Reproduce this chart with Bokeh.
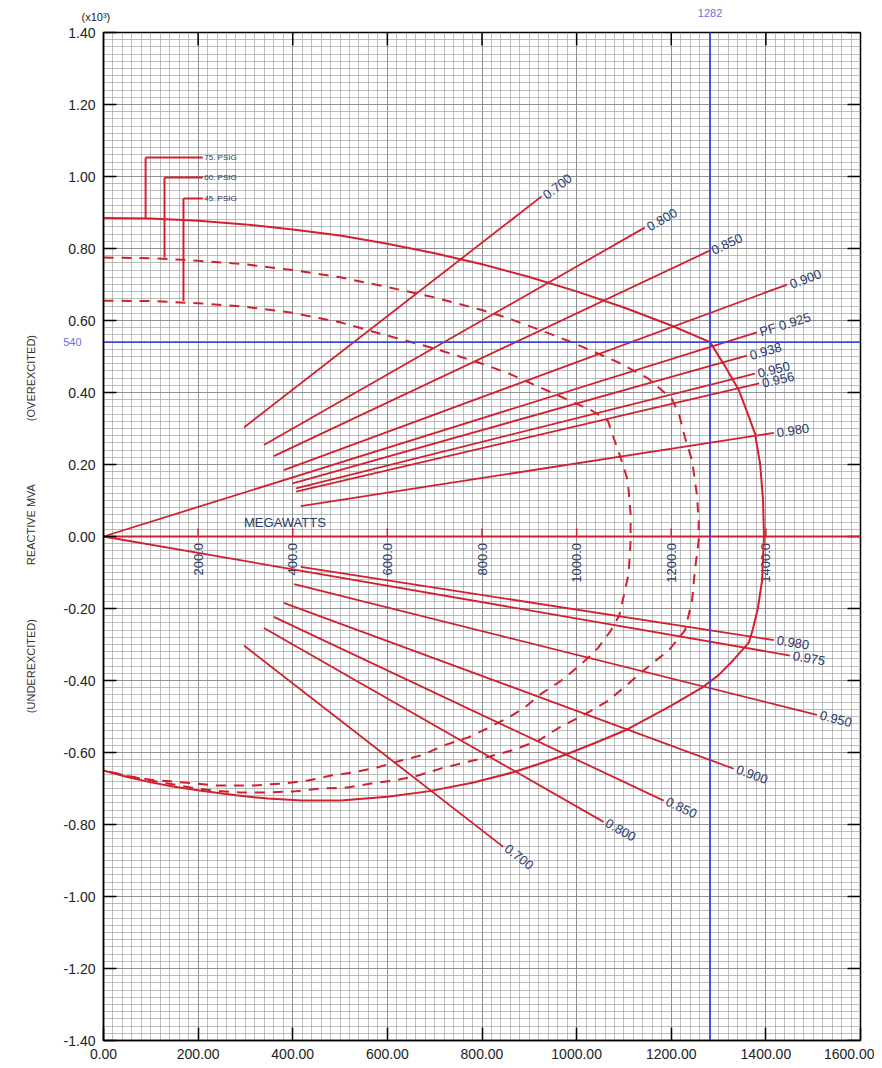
import math
from bokeh.plotting import figure
from bokeh.models import Range1d, FixedTicker, NumeralTickFormatter, LinearAxis, ColumnDataSource
from bokeh.embed import file_html
from bokeh.resources import INLINE
from bokeh.core.properties import value

# ---------------- data (MW, MVAR) ----------------
cap75_p = [0, 100, 200, 300, 400, 500, 600, 700, 800, 900, 1000, 1100, 1200, 1282,
           1315, 1343, 1362, 1377, 1388, 1394, 1396, 1394, 1392, 1383, 1372, 1364,
           1330, 1300, 1265, 1200, 1150, 1102, 1040, 975, 920, 866, 780, 686, 600,
           502, 420, 347, 280, 206, 150, 100, 50, 0]
cap75_q = [885, 883, 877, 867, 853, 836, 813, 787, 756, 721, 681, 636, 586, 540,
           470, 406, 340, 286, 200, 100, 0, -60, -122, -200, -260, -295,
           -345, -385, -420, -470, -505, -539, -573, -607, -632, -655, -684, -708, -723,
           -733, -733, -728, -719, -706, -695, -683, -668, -650]

cap60_p = [0, 100, 200, 300, 400, 500, 600, 700, 800, 856, 950, 1000, 1089, 1150,
           1201, 1216, 1229, 1244, 1254, 1258, 1258, 1250, 1244, 1229, 1194, 1160,
           1130, 1110, 1067, 1032, 1004, 964, 919, 866, 817, 763, 714, 665, 614, 566,
           517, 460, 403, 347, 290, 233, 184, 136, 100, 50, 0]
cap60_q = [775, 773, 766, 756, 740, 720, 693, 664, 629, 606, 560, 534, 483, 440,
           383, 342, 275, 211, 119, 44, -11, -94, -178, -261, -317, -352,
           -385, -408, -456, -483, -503, -530, -567, -593, -611, -628, -644, -664, -678, -686,
           -697, -700, -708, -711, -711, -706, -697, -686, -678, -665, -650]

cap45_p = [0, 100, 200, 300, 396, 500, 600, 700, 800, 856, 947, 1032, 1066, 1078,
           1093, 1108, 1114, 1114, 1110, 1099, 1090, 1072, 1045, 1011, 968, 926, 890,
           856, 814, 771, 720, 672, 629, 580, 530, 481, 432, 381, 311, 242, 191, 142,
           100, 50, 0]
cap45_q = [655, 654, 648, 638, 622, 595, 558, 522, 480, 453, 400, 350, 322, 275,
           219, 156, 64, -11, -103, -169, -220, -262, -310, -353, -400, -436, -475,
           -503, -531, -558, -580, -608, -622, -641, -655, -664, -678, -686, -692, -692, -686, -680,
           -676, -665, -650]

over_pf = [0.700, 0.800, 0.850, 0.900, 0.925, 0.938, 0.950, 0.956, 0.980]
over_labels = ["0.700", "0.800", "0.850", "0.900", "PF 0.925", "0.938", "0.950", "0.956", "0.980"]
over_p0 = [297, 339, 360, 381, 0, 400, 407, 407, 417]
over_p1 = [926, 1144, 1280, 1445, 1381, 1360, 1377, 1386, 1417]

under_pf = [0.700, 0.800, 0.850, 0.900, 0.950, 0.975, 0.980]
under_labels = ["0.700", "0.800", "0.850", "0.900", "0.950", "0.975", "0.980"]
under_p0 = [297, 339, 360, 381, 403, 0, 417]
under_p1 = [845, 1057, 1184, 1332, 1508, 1451, 1417]

psig_labels = ["75. PSIG", "60. PSIG", "45. PSIG"]

rated_mw = 1282
rated_mvar = 540

x_ticks = [0, 200, 400, 600, 800, 1000, 1200, 1400, 1600]
inner_ticks = [200, 400, 600, 800, 1000, 1200, 1400]
inner_tick_labels = ["200.0", "400.0", "600.0", "800.0", "1000.0", "1200.0", "1400.0"]
y_ticks = [-1.4, -1.2, -1.0, -0.8, -0.6, -0.4, -0.2, 0.0, 0.2, 0.4, 0.6, 0.8, 1.0, 1.2, 1.4]
side_texts = ["(OVEREXCITED)", "REACTIVE MVA", "(UNDEREXCITED)"]

# ---------------- styles ----------------
RED = "#d3202f"
BLUE = "#3a48d4"
NAVY = "#2a3c6c"
LBLUE = "#6d6fd8"
FONT = "Liberation Sans"

FW, FH = 757, 1008          # frame size in px
XPX = FW / 1600.0           # px per MW
YPX = FH / 2800.0           # px per MVAR

p = figure(width=874, height=1064, x_range=Range1d(0, 1600), y_range=Range1d(-1.4, 1.4),
           output_backend="svg", toolbar_location=None,
           min_border_left=103, min_border_right=14, min_border_top=32, min_border_bottom=24)
p.background_fill_color = "white"
p.outline_line_color = "black"
p.outline_line_width = 1.5

x_minor = [20 * i for i in range(81)]
y_minor = [round(-1.4 + 0.02 * i, 2) for i in range(141)]
xt = FixedTicker(ticks=x_ticks, minor_ticks=x_minor)
yt = FixedTicker(ticks=y_ticks, minor_ticks=y_minor)
p.xaxis.ticker = xt
p.yaxis.ticker = yt
p.xgrid.ticker = xt
p.ygrid.ticker = yt
for g in (p.xgrid, p.ygrid):
    g.grid_line_color = "#858585"
    g.grid_line_width = 0.8
    g.minor_grid_line_color = "#999999"
    g.minor_grid_line_width = 0.65

p.xaxis.formatter = NumeralTickFormatter(format="0.00")
p.yaxis.formatter = NumeralTickFormatter(format="0.00")
for ax in (p.xaxis, p.yaxis):
    ax.major_tick_in = 13
    ax.major_tick_out = 0
    ax.major_tick_line_width = 1.5
    ax.minor_tick_line_color = None
    ax.axis_line_width = 1.5
    ax.major_label_text_font = FONT
    ax.major_label_text_font_size = "14px"
    ax.major_label_text_color = "#222222"
    ax.major_label_standoff = 4


def text_axis(ticks, labels, color, size, standoff, orientation="horizontal"):
    ax = LinearAxis(ticker=FixedTicker(ticks=ticks),
                    major_label_overrides=dict(zip(ticks, labels)),
                    major_tick_in=0, major_tick_out=0, major_tick_line_color=None,
                    minor_tick_line_color=None, axis_line_color=None,
                    major_label_text_font=FONT, major_label_text_font_size=size,
                    major_label_text_color=color, major_label_standoff=standoff,
                    major_label_orientation=orientation)
    return ax

# labels outside the frame, as label-only axes
p.add_layout(text_axis([rated_mvar / 1000.0], [str(rated_mvar)], LBLUE, "11px", -21), "left")
p.add_layout(text_axis([0.44, 0.033, -0.36], side_texts, "#333333", "11px", 23, "vertical"), "left")
p.add_layout(text_axis([0], ["(x10³)" + "\u00a0" * 5], "#222222", "11px", 10), "above")
p.add_layout(text_axis([rated_mw], [str(rated_mw)], LBLUE, "11px", -9), "above")

# ticks on top and right edges
p.segment(x0=x_ticks[1:-1], y0=[1.4] * 7, x1=x_ticks[1:-1], y1=[1.4 - 13 / 360.0] * 7,
          line_color="black", line_width=1.5)
p.segment(x0=[1600] * len(y_ticks), y0=y_ticks, x1=[1600 - 13 / XPX] * len(y_ticks), y1=y_ticks,
          line_color="black", line_width=1.5)

# megawatt axis inside the plot
p.line(x=[0, 1600], y=[0, 0], line_color=RED, line_width=2)
p.segment(x0=inner_ticks, y0=[0] * 7, x1=inner_ticks, y1=[8 / 360.0] * 7, line_color=RED, line_width=1.5)
p.text(x=inner_ticks, y=[-0.018] * 7, text=inner_tick_labels, angle=math.pi / 2,
       text_align="right", text_baseline="middle", text_font=value(FONT),
       text_font_size="13px", text_color=NAVY)
p.text(x=[297], y=[0.038], text=["MEGAWATTS"], text_align="left", text_baseline="middle",
       text_font=value(FONT), text_font_size="13px", text_color=NAVY)

# capability curves
def kq(lst):
    return [v / 1000.0 for v in lst]

p.line(cap75_p, kq(cap75_q), line_color=RED, line_width=2)
p.line(cap60_p, kq(cap60_q), line_color=RED, line_width=2, line_dash="10 8")
p.line(cap45_p, kq(cap45_q), line_color=RED, line_width=2, line_dash="10 8")

# power factor lines
def pf_src(pfs, p0s, p1s, labels, sign):
    t = [math.tan(math.acos(f)) for f in pfs]
    y0 = [sign * a * b / 1000.0 for a, b in zip(p0s, t)]
    y1 = [sign * a * b / 1000.0 for a, b in zip(p1s, t)]
    ang = [sign * math.atan(b * YPX / XPX) for b in t]
    return ColumnDataSource(dict(x0=p0s, y0=y0, x1=p1s, y1=y1, lab=labels, ang=ang))

so = pf_src(over_pf, over_p0, over_p1, over_labels, 1)
su = pf_src(under_pf, under_p0, under_p1, under_labels, -1)
for s in (so, su):
    p.segment(x0="x0", y0="y0", x1="x1", y1="y1", source=s, line_color=RED, line_width=1.8)
    p.text(x="x1", y="y1", text="lab", angle="ang", source=s, x_offset=3,
           text_align="left", text_baseline="middle", text_font=value(FONT),
           text_font_size="13px", text_color=NAVY)

# PSIG leaders
lead_x = [89, 129, 169]
lead_y = [1.053, 0.997, 0.939]
lead_base = [cap75_q[1] / 1000.0 + 0.002, cap60_q[1] / 1000.0 + 0.002, cap45_q[2] / 1000.0 + 0.006]
p.segment(x0=lead_x, y0=lead_y, x1=lead_x, y1=lead_base, line_color=RED, line_width=2)
p.segment(x0=lead_x, y0=lead_y, x1=[210] * 3, y1=lead_y, line_color=RED, line_width=2)
p.text(x=[213] * 3, y=lead_y, text=psig_labels, text_align="left", text_baseline="middle",
       text_font=value(FONT), text_font_size="8px", text_color=NAVY)

# rated point lines
p.line(x=[rated_mw, rated_mw], y=[-1.4, 1.4], line_color=BLUE, line_width=1.8)
p.line(x=[0, 1600], y=[rated_mvar / 1000.0] * 2, line_color=BLUE, line_width=1.8)

open("out.html", "w").write(file_html(p, INLINE))
